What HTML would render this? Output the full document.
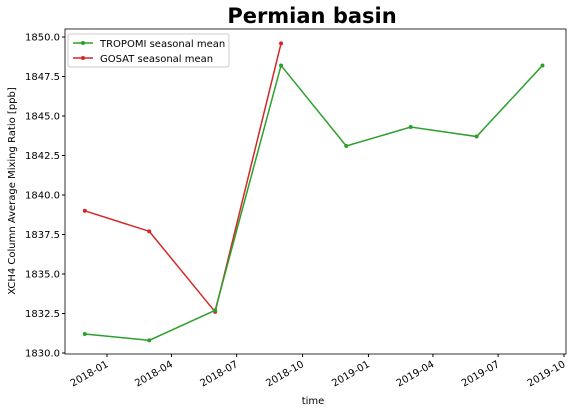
<!DOCTYPE html>
<html><head><meta charset="utf-8">
<style>
body{margin:0;background:#fff;}
svg{display:block;font-family:"DejaVu Sans","Liberation Sans",sans-serif;}
</style></head>
<body>
<svg id="chart" width="572" height="413" viewBox="0 0 572 413" xmlns="http://www.w3.org/2000/svg">
<text x="312" y="23" text-anchor="middle" font-size="21" font-weight="bold">Permian basin</text>
<rect x="65" y="29" width="501" height="325" fill="none" stroke="#000" stroke-width="0.8"/>
<g id="yticks"></g><g id="xticks"></g><g id="series"></g>
<text transform="translate(15,191) rotate(-90)" text-anchor="middle" font-size="10">XCH4 Column Average Mixing Ratio [ppb]</text>
<text x="313" y="404" text-anchor="middle" font-size="10">time</text>
<g>
<rect x="68" y="34" width="161" height="33" fill="#fff" stroke="#ccc" rx="2"/>
<line x1="73" y1="43" x2="93" y2="43" stroke="#2ca02c" stroke-width="1.5"/><circle cx="83" cy="43" r="2" fill="#2ca02c"/>
<text x="100" y="47" font-size="10">TROPOMI seasonal mean</text>
<line x1="73" y1="58" x2="93" y2="58" stroke="#d62728" stroke-width="1.5"/><circle cx="83" cy="58" r="2" fill="#d62728"/>
<text x="100" y="62" font-size="10">GOSAT seasonal mean</text>
</g>
</svg>
<script>
const tropomiDates=["2017-12-01","2018-03-01","2018-06-01","2018-09-01","2018-12-01","2019-03-01","2019-06-01","2019-09-01"];
const tropomiValues=[1831.2,1830.8,1832.7,1848.2,1843.1,1844.3,1843.7,1848.2];
const gosatDates=["2017-12-01","2018-03-01","2018-06-01","2018-09-01"];
const gosatValues=[1839.0,1837.7,1832.6,1849.6];
const yTicks=[1830.0,1832.5,1835.0,1837.5,1840.0,1842.5,1845.0,1847.5,1850.0];
const xTicks=["2018-01","2018-04","2018-07","2018-10","2019-01","2019-04","2019-07","2019-10"];
const NS="http://www.w3.org/2000/svg";
const d0=Date.UTC(2018,0,1), d1=Date.UTC(2019,9,1);
function xs(s){const p=s.split("-");const t=Date.UTC(+p[0],+p[1]-1,p[2]?+p[2]:1);return 107+(t-d0)/(d1-d0)*457;}
function ys(v){return 353-(v-1830)/20*316;}
function mk(tag,attrs,parent){const e=document.createElementNS(NS,tag);for(const k in attrs)e.setAttribute(k,attrs[k]);parent.appendChild(e);return e;}
const yg=document.getElementById("yticks");
yTicks.forEach(v=>{const y=ys(v);
const l=mk("line",{x1:62,x2:65,y1:y,y2:y,stroke:"#000"},yg);


const t=mk("text",{x:60,y:y+3.5,"text-anchor":"end","font-size":10},yg);t.textContent=v.toFixed(1);

});
const xg=document.getElementById("xticks");
xTicks.forEach(s=>{const x=xs(s);
const l=mk("line",{x1:x,x2:x,y1:354,y2:357,stroke:"#000"},xg);


const t=mk("text",{transform:`translate(${x+2},${366}) rotate(-30)`,"text-anchor":"end","font-size":10},xg);t.textContent=s;

});
const sg=document.getElementById("series");
function series(dates,vals,color,name){
const pts=dates.map((d,i)=>xs(d)+","+ys(vals[i])).join(" ");
const pl=mk("polyline",{points:pts,fill:"none",stroke:color,"stroke-width":1.5},sg);


dates.forEach((d,i)=>{const c=mk("circle",{cx:xs(d),cy:ys(vals[i]),r:2,fill:color},sg);

});}
series(gosatDates,gosatValues,"#d62728","gosat");
series(tropomiDates,tropomiValues,"#2ca02c","tropomi");
</script>
</body></html>
